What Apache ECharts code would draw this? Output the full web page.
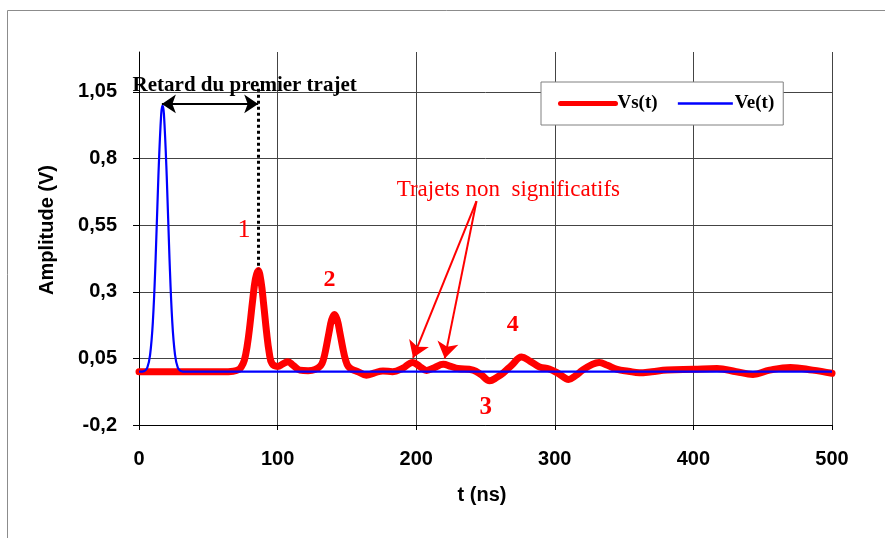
<!DOCTYPE html>
<html><head><meta charset="utf-8">
<script src="https://cdn.jsdelivr.net/npm/echarts@6/dist/echarts.min.js"></script>
<style>html,body{margin:0;padding:0;background:#fff}#c{width:885px;height:538px}</style>
</head><body><div id="c"></div>
<script>
// ---- data ----
const seriesNames = ['Vs(t)', 'Ve(t)'];
const veTime   = [0, 4, 6, 8, 10, 12, 14, 16, 17, 18, 20, 22, 24, 26, 28, 30, 34, 100, 200, 300, 400, 500];
const veValues = [0, 0.003, 0.015, 0.063, 0.187, 0.425, 0.735, 0.966, 1.0, 0.966, 0.735, 0.425, 0.187, 0.063, 0.015, 0.003, 0, 0, 0, 0, 0, 0];
const vsTime   = [0, 30, 60, 68, 72, 74, 76, 78, 80, 82, 84, 86, 88, 90, 92, 94, 96, 100, 104, 107.5, 111, 116, 122, 127,
                  131, 133, 135, 137, 139, 141, 143, 145, 147, 149, 151, 154, 158, 164, 170, 176, 183, 190, 197.5, 203, 207.5,
                  213, 219.5, 225, 230, 241, 247, 253, 258, 263, 269, 276, 282, 289, 296, 303, 310, 315, 320, 326, 332, 338,
                  345, 353, 361, 370, 381, 400, 417, 431, 443, 455, 470, 486, 500];
const vsValues = [0, 0, 0, 0.002, 0.008, 0.02, 0.043, 0.095, 0.174, 0.268, 0.348, 0.38, 0.34, 0.25, 0.15, 0.07, 0.03, 0.02, 0.03, 0.037, 0.025, 0.006, 0.004, 0.008,
                  0.022, 0.045, 0.09, 0.145, 0.195, 0.215, 0.195, 0.145, 0.09, 0.045, 0.02, 0.008, 0.0, -0.013, -0.004, 0.003, 0.0, 0.012, 0.035, 0.018, 0.005,
                  0.015, 0.028, 0.02, 0.012, 0.006, -0.012, -0.034, -0.022, -0.004, 0.025, 0.055, 0.04, 0.018, 0.01, -0.008, -0.029, -0.015, 0.006, 0.025, 0.035, 0.024,
                  0.009, 0.002, -0.004, 0.0, 0.006, 0.009, 0.012, 0.0, -0.01, 0.006, 0.016, 0.006, -0.006];
const yTickValues = [-0.2, 0.05, 0.3, 0.55, 0.8, 1.05];
const xMin = 0, xMax = 500, xStep = 100;
const yMin = -0.2, yMax = 1.2;
// annotation anchors in data units [t, V]
const delayStart = [16.5, 1.005];
const delayEnd = [86, 1.005];
const dottedTop = [86, 1.062];
const dottedBottom = [86, 0.385];
const arrowFrom = [243.5, 0.64];
const arrowTips = [[197.7, 0.052], [220.6, 0.05]];

const sans = 'Liberation Sans, Arial, sans-serif';
const serif = 'Liberation Serif, Times New Roman, serif';

const chart = echarts.init(document.getElementById('c'), null, {renderer: 'canvas'});
const zip = (t, v) => t.map((x, i) => [x, v[i]]);

chart.setOption({
  animation: false,
  backgroundColor: '#fff',
  grid: {left: 139, right: 53, top: 52, bottom: 113, containLabel: false},
  legend: {
    data: [
      {name: seriesNames[0], lineStyle: {width: 5, cap: 'round'}},
      {name: seriesNames[1], lineStyle: {width: 2.5}}
    ],
    left: 541, top: 82,
    padding: [12, 9, 12, 17],
    itemWidth: 55, itemHeight: 14, itemGap: 19,
    borderColor: '#808080', borderWidth: 1, backgroundColor: '#fff',
    itemStyle: {opacity: 0},
    textStyle: {fontFamily: serif, fontWeight: 'bold', fontSize: 19, color: '#000', padding: [0, 0, 0, -3]}
  },
  xAxis: {
    type: 'value', min: xMin, max: xMax, interval: xStep,
    axisLine: {onZero: false, lineStyle: {color: '#000', width: 1}},
    axisTick: {show: true, length: 5, lineStyle: {color: '#000'}},
    axisLabel: {fontFamily: sans, fontWeight: 'bold', fontSize: 20, color: '#000', margin: 24},
    splitLine: {show: true, lineStyle: {color: '#444', width: 1}}
  },
  yAxis: {
    type: 'value', min: yMin, max: yMax,
    axisLine: {show: true, onZero: false, lineStyle: {color: '#000', width: 1}},
    axisTick: {show: true, customValues: yTickValues, length: 6, lineStyle: {color: '#000'}},
    axisLabel: {customValues: yTickValues, fontFamily: sans, fontWeight: 'bold', fontSize: 20, color: '#000', margin: 22,
      formatter: v => String(v).replace('.', ',')},
    splitLine: {show: true, lineStyle: {color: '#444', width: 1}}
  },
  series: [
    {
      name: seriesNames[0], type: 'line', data: zip(vsTime, vsValues), smooth: 0.4,
      symbol: 'none', lineStyle: {color: '#ff0000', width: 7, cap: 'round', join: 'round'},
      itemStyle: {color: '#ff0000'}, z: 2,
      markLine: {
        silent: true, animation: false, symbol: ['none', 'arrow'], symbolSize: 16,
        label: {show: false},
        lineStyle: {color: '#ff0000', width: 2, type: 'solid'},
        data: arrowTips.map(tip => [{coord: arrowFrom}, {coord: tip}])
      }
    },
    {
      name: seriesNames[1], type: 'line', data: zip(veTime, veValues), smooth: 0.4,
      symbol: 'none', lineStyle: {color: '#0000ff', width: 2.2}, itemStyle: {color: '#0000ff'}, z: 3,
      markLine: {
        silent: true, animation: false, symbol: ['arrow', 'arrow'], symbolSize: 14,
        label: {show: false},
        data: [
          [{coord: delayStart, lineStyle: {color: '#000', width: 2, type: 'solid'}}, {coord: delayEnd}],
          [{coord: dottedTop, symbol: 'none', lineStyle: {color: '#000', width: 3, type: [3, 3]}}, {coord: dottedBottom, symbol: 'none'}]
        ]
      }
    }
  ]
});

const px = p => chart.convertToPixel({gridIndex: 0}, p);
const texts = [
  {txt: 'Retard du premier trajet', at: [-4.6, 1.036], font: 'bold 21px ' + serif, color: '#000', align: 'left', va: 'bottom'},
  {txt: '1', at: [75.8, 0.53], font: '26px ' + serif, color: '#ff0000', align: 'center', va: 'middle'},
  {txt: '2', at: [137.5, 0.345], font: 'bold 24px ' + serif, color: '#ff0000', align: 'center', va: 'middle'},
  {txt: 'Trajets non  significatifs', at: [266.5, 0.684], font: '23px ' + serif, color: '#ff0000', align: 'center', va: 'middle'},
  {txt: '4', at: [269.7, 0.175], font: 'bold 24px ' + serif, color: '#ff0000', align: 'center', va: 'middle'},
  {txt: '3', at: [250.2, -0.136], font: 'bold 25px ' + serif, color: '#ff0000', align: 'center', va: 'middle'}
];
const graphics = [
  {type: 'rect', shape: {x: 7.5, y: 10.5, width: 1000, height: 1000}, style: {fill: 'none', stroke: '#8c8c8c', lineWidth: 1}, z: -10, silent: true},
  {type: 'text', x: 47, y: 230, rotation: Math.PI / 2, style: {text: 'Amplitude (V)', font: 'bold 20px ' + sans, fill: '#000', align: 'center', verticalAlign: 'middle'}},
  {type: 'text', x: 482, y: 495, style: {text: 't (ns)', font: 'bold 20px ' + sans, fill: '#000', align: 'center', verticalAlign: 'middle'}}
];
texts.forEach(t => {
  const p = px(t.at);
  graphics.push({type: 'text', x: p[0], y: p[1], z: 100, style: {text: t.txt, font: t.font, fill: t.color, align: t.align, verticalAlign: t.va}});
});
chart.setOption({graphic: graphics});
</script>
</body></html>
